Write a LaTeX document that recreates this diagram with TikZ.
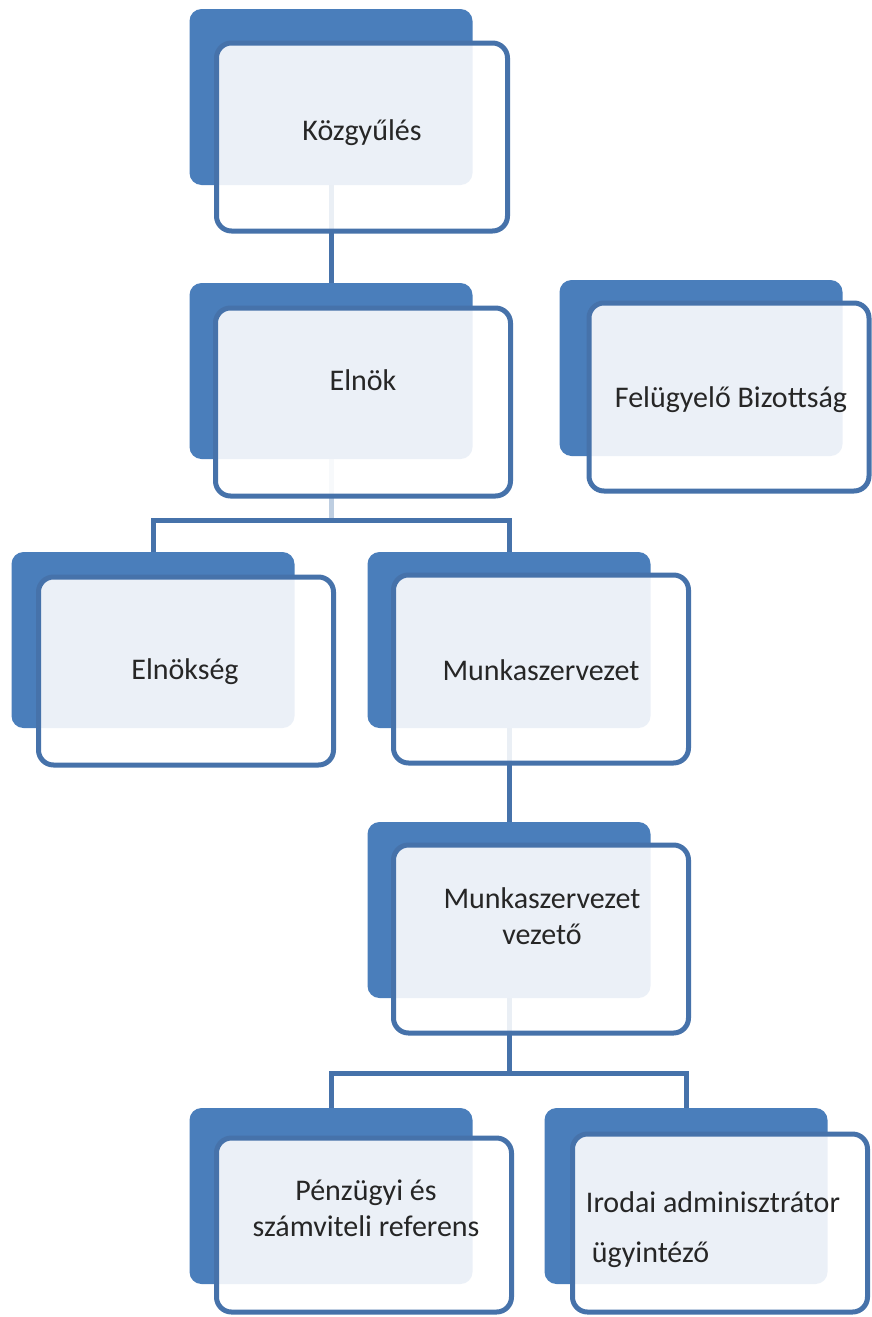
\documentclass[tikz,border=0pt]{standalone}
\usepackage{fontspec}
\setmainfont{Carlito}
\usepackage{xcolor}
\usepackage{tikz}
\usetikzlibrary{positioning, calc, backgrounds}
\definecolor{orgblue}{HTML}{4A7EBB}
\definecolor{orgline}{HTML}{4672AA}
\definecolor{orgtext}{HTML}{262626}

\begin{document}
\begin{tikzpicture}[x=1pt, y=-1pt,
  backbox/.style={fill=orgblue, rounded corners=12pt, minimum width=283pt, minimum height=176pt, inner sep=0pt},
  frontbox/.style={draw=orgline, line width=5pt, fill=white, fill opacity=0.89, rounded corners=15pt, minimum width=295pt, minimum height=188pt, inner sep=0pt},
  boxtext/.style={font=\fontsize{30}{36}\selectfont, text=orgtext, align=center},
  link/.style={draw=orgline, line width=5pt}]
  \useasboundingbox (0,0) rectangle (872,1317);

  % back cards
  \node[backbox] (kozgy-b)    at (331,97)    {};
  \node[backbox] (elnok-b)    at (331,371)   {};
  \node[backbox] (fb-b)       at (701,368)   {};
  \node[backbox] (elnokseg-b) at (153,640)   {};
  \node[backbox] (munka-b)    at (509,640)   {};
  \node[backbox] (vezeto-b)   at (509,910)   {};
  \node[backbox] (penz-b)     at (331,1196)  {};
  \node[backbox] (irodai-b)   at (686,1196)  {};

  % front cards
  \node[frontbox, minimum width=291pt] (kozgy)  at (362,137)  {};
  \node[frontbox] (elnok)                       at (363,402)  {};
  \node[frontbox, minimum width=280pt] (fb)     at (729,397)  {};
  \node[frontbox] (elnokseg)                    at (186,671)  {};
  \node[frontbox] (munka)                       at (541,669)  {};
  \node[frontbox] (vezeto)                      at (541,939)  {};
  \node[frontbox, minimum height=174pt] (penz)  at (364,1225) {};
  \node[frontbox, minimum height=178pt] (irodai) at (720,1223) {};

  % labels
  \node[boxtext] (kozgy-t)    at (362,133)  {Közgyűlés};
  \node[boxtext] (elnok-t)    at (363,380)  {Elnök};
  \node[boxtext] (fb-t)       at (731,400)  {Felügyelő Bizottság};
  \node[boxtext] (elnokseg-t) at (185,672)  {Elnökség};
  \node[boxtext] (munka-t)    at (541,670)  {Munkaszervezet};
  \node[boxtext] (vezeto-t)   at (542,916)  {Munkaszervezet\\vezető};
  \node[boxtext] (penz-t)     at (366,1208) {Pénzügyi és\\számviteli referens};
  \node[boxtext, align=left] (irodai-t) at (713,1230) {Irodai adminisztrátor\\[14pt]\hspace*{6pt}ügyintéző};

  % connectors
  \begin{scope}[on background layer]
    \fill[white] (0,0) rectangle (872,1317);
    \coordinate (elnok-split)  at (331,520);
    \coordinate (vezeto-split) at (509,1073);
    \draw[link] (kozgy-b.south) -- (elnok-b.north);
    \draw[link, draw=orgline!35] (elnok-b.south) -- (elnok-split);
    \draw[link] (elnok-split) -| (elnokseg-b.north);
    \draw[link] (elnok-split) -| (munka-b.north);
    \draw[link] (munka-b.south) -- (vezeto-b.north);
    \draw[link] (vezeto-b.south) -- (vezeto-split);
    \draw[link] (vezeto-split) -| (penz-b.north);
    \draw[link] (vezeto-split) -| (irodai-b.north);
  \end{scope}
\end{tikzpicture}
\end{document}
